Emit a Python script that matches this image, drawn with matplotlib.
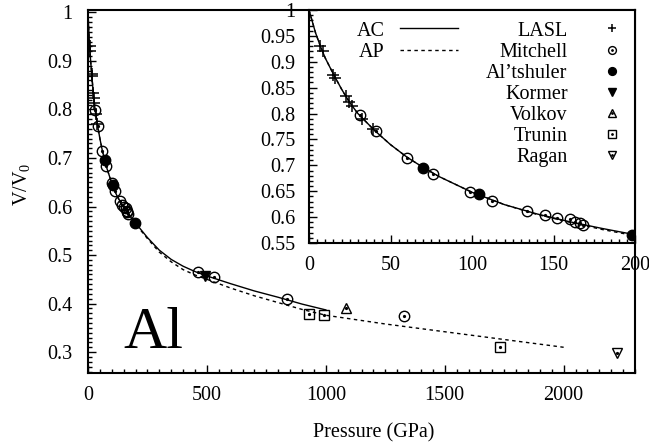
import matplotlib

matplotlib.use("Agg")
import matplotlib.pyplot as plt
from matplotlib.ticker import MultipleLocator, FormatStrFormatter

plt.rcParams["font.family"] = ["Liberation Serif", "DejaVu Serif"]
plt.rcParams["mathtext.fontset"] = "custom"
plt.rcParams["mathtext.rm"] = "Liberation Serif"
plt.rcParams["mathtext.it"] = "Liberation Serif:italic"

# curves (pressure in GPa, V/V0)
AC_P = [0, 2, 4, 7, 10, 15, 20, 25, 30, 40, 50, 60, 70, 80, 100, 120, 140, 160, 180, 200,
        250, 300, 350, 400, 450, 500, 600, 700, 800, 900, 1000]
AC_V = [1.0, 0.978, 0.956, 0.930, 0.907, 0.876, 0.847, 0.821, 0.800, 0.768, 0.740, 0.716,
        0.696, 0.678, 0.648, 0.624, 0.606, 0.591, 0.578, 0.566,
        0.536, 0.510, 0.491, 0.477, 0.466, 0.457, 0.441, 0.426, 0.413, 0.399, 0.387]
AP_P = [0, 2, 4, 7, 10, 15, 20, 25, 30, 40, 50, 60, 70, 80, 100, 120, 140, 160, 180, 200,
        250, 300, 350, 400, 450, 500, 600, 700, 800, 900, 1000, 1250, 1500, 1750, 2000]
AP_V = [1.0, 0.978, 0.956, 0.930, 0.907, 0.876, 0.847, 0.821, 0.800, 0.768, 0.740, 0.716,
        0.696, 0.678, 0.648, 0.624, 0.605, 0.590, 0.576, 0.564,
        0.534, 0.506, 0.486, 0.470, 0.459, 0.450, 0.432, 0.416, 0.402, 0.388, 0.376,
        0.358, 0.342, 0.326, 0.310]

# experimental points
LASL_P = [6.5, 8.6, 15.0, 16.0, 22.4, 24.4, 26.2, 32.5, 39.0]
LASL_V = [0.930, 0.920, 0.874, 0.868, 0.834, 0.823, 0.814, 0.790, 0.770]
MITCHELL_P = [31, 41, 60, 76, 99, 112, 134, 145, 152, 160, 163, 166, 168, 464, 528, 836, 1330]
MITCHELL_V = [0.798, 0.766, 0.715, 0.684, 0.649, 0.632, 0.611, 0.604, 0.599, 0.596, 0.591,
              0.589, 0.585, 0.466, 0.454, 0.409, 0.374]
ALTSHULER_P = [70, 104.5, 198]
ALTSHULER_V = [0.695, 0.645, 0.566]
KORMER_P = [492]
KORMER_V = [0.457]
VOLKOV_P = [1085]
VOLKOV_V = [0.390]
TRUNIN_P = [930, 993, 1732]
TRUNIN_V = [0.378, 0.376, 0.310]
RAGAN_P = [2226]
RAGAN_V = [0.299]

FS = 14.5
MS = 7.5


def dot(ax, p, v):
    return ax.plot(p, v, ls="none", marker="o", ms=1.3, color="black", zorder=4)[0]


def draw_data(ax):
    ac, = ax.plot(AC_P, AC_V, color="black", lw=1.0, label="AC")
    ap, = ax.plot(AP_P, AP_V, color="black", lw=1.0, ls=(0, (2.5, 2.5)), label="AP")
    open_kw = dict(ls="none", mfc="none", mec="black", mew=1.0, ms=MS, zorder=3)
    lasl, = ax.plot(LASL_P, LASL_V, ls="none", marker="+", ms=8, mew=1.1, color="black", zorder=3)
    mit, = ax.plot(MITCHELL_P, MITCHELL_V, marker="o", **open_kw)
    mit_d = dot(ax, MITCHELL_P, MITCHELL_V)
    alt, = ax.plot(ALTSHULER_P, ALTSHULER_V, ls="none", marker="o", ms=MS, color="black", zorder=3)
    kor, = ax.plot(KORMER_P, KORMER_V, ls="none", marker="v", ms=MS, color="black", zorder=3)
    vol, = ax.plot(VOLKOV_P, VOLKOV_V, marker="^", **open_kw)
    vol_d = dot(ax, VOLKOV_P, VOLKOV_V)
    tru, = ax.plot(TRUNIN_P, TRUNIN_V, marker="s", **open_kw)
    tru_d = dot(ax, TRUNIN_P, TRUNIN_V)
    rag, = ax.plot(RAGAN_P, RAGAN_V, marker="v", **open_kw)
    rag_d = dot(ax, RAGAN_P, RAGAN_V)
    lines = [ac, ap]
    points = [lasl, (mit, mit_d), alt, kor, (vol, vol_d), (tru, tru_d), (rag, rag_d)]
    return lines, points


def style_axes(ax, xpad, ypad):
    ax.tick_params(which="both", direction="in", top=False, right=False, labelsize=FS, width=1.0)
    ax.tick_params(which="major", length=6)
    ax.tick_params(which="minor", length=3)
    ax.tick_params(axis="x", pad=xpad)
    ax.tick_params(axis="y", pad=ypad)
    for spine in ax.spines.values():
        spine.set_linewidth(1.5)


fig = plt.figure(figsize=(6.49, 4.45), dpi=100)
ax = fig.add_axes([88 / 649, 1 - 373 / 445, (635 - 88) / 649, (373 - 10) / 445])
draw_data(ax)
ax.set_xlim(0, 2300)
ax.set_ylim(0.257, 1.005)
ax.xaxis.set_major_locator(MultipleLocator(500))
ax.xaxis.set_minor_locator(MultipleLocator(50))
ax.yaxis.set_major_locator(MultipleLocator(0.1))
ax.yaxis.set_minor_locator(MultipleLocator(0.01))
ax.yaxis.set_major_formatter(FormatStrFormatter("%g"))
style_axes(ax, 9, 11)
ax.set_xlabel("Pressure (GPa)", fontsize=FS)
ax.xaxis.set_label_coords(0.523, -0.138)
ax.set_ylabel("V/V$_0$", fontsize=FS)
ax.yaxis.set_label_coords(-0.103, 0.52)
ax.text(0.064, 0.069, "Al", transform=ax.transAxes, fontsize=43, va="baseline", ha="left")

ins = fig.add_axes([309 / 649, 1 - 243 / 445, (635 - 309) / 649, (243 - 10) / 445])
ins.set_facecolor("white")
lines, points = draw_data(ins)
ins.set_xlim(0, 200)
ins.set_ylim(0.55, 1.0)
ins.xaxis.set_major_locator(MultipleLocator(50))
ins.xaxis.set_minor_locator(MultipleLocator(5))
ins.yaxis.set_major_locator(MultipleLocator(0.05))
ins.yaxis.set_minor_locator(MultipleLocator(0.01))
ins.yaxis.set_major_formatter(FormatStrFormatter("%g"))
style_axes(ins, 9, 10)

leg1 = ins.legend(lines, ["AC", "AP"], loc="upper right", bbox_to_anchor=(0.457, 0.951),
                  frameon=False, markerfirst=False, fontsize=FS, handlelength=2.9,
                  handletextpad=0.75, labelspacing=0.1, borderpad=0, borderaxespad=0)
ins.add_artist(leg1)
ins.legend(points, ["LASL", "Mitchell", "Al\u2019tshuler", "Kormer", "Volkov", "Trunin", "Ragan"],
           loc="upper right", bbox_to_anchor=(0.96, 0.951), frameon=False, markerfirst=False,
           fontsize=FS, handlelength=1.0, handletextpad=1.7, labelspacing=0.1, borderpad=0,
           borderaxespad=0, markerscale=0.75)

fig.savefig("out.png", dpi=100, facecolor="white")
